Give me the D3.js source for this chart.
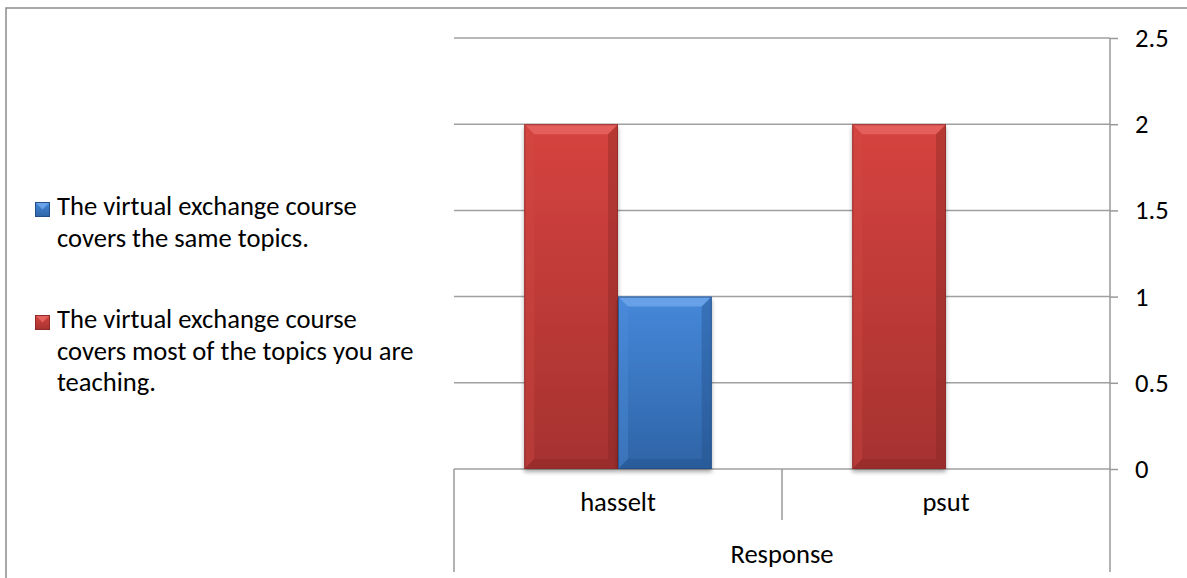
<!DOCTYPE html>
<html>
<head>
<meta charset="utf-8">
<script src="https://cdn.jsdelivr.net/npm/d3@7"></script>
<style>
html,body{margin:0;padding:0;background:#fff;}
svg{display:block;}
text{font-family:Carlito, Calibri, Lato, "Open Sans", sans-serif;fill:#000;}
</style>
</head>
<body>
<svg id="chart" width="1187" height="578"></svg>
<script>
// ---- data ----
const categories = ["hasselt", "psut"];
const seriesNames = [
  "The virtual exchange course covers most of the topics you are teaching.",
  "The virtual exchange course covers the same topics."
];
const seriesMost = [2, 2];
const seriesSame = [1, 0];
const legendLines = [
  ["The virtual exchange course", "covers the same topics."],
  ["The virtual exchange course", "covers most of the topics you are", "teaching."]
];
const yTickValues = [0, 0.5, 1, 1.5, 2, 2.5];
const yTickLabels = ["0", "0.5", "1", "1.5", "2", "2.5"];
const axisTitle = "Response";

// ---- setup ----
const svg = d3.select("#chart");
const W = 1187, H = 578;
const plot = {left: 454, right: 1110, top: 38, bottom: 469};

// measure font size so text width matches
const probe = svg.append("text").attr("font-size", 22).text("The virtual exchange course");
const measured = probe.node().getComputedTextLength();
probe.remove();
const FS = Math.max(16, Math.min(28, 22 * 300 / measured));

const defs = svg.append("defs");
function grad(id, c1, c2) {
  const g = defs.append("linearGradient").attr("id", id).attr("x1", 0).attr("y1", 0).attr("x2", 0).attr("y2", 1);
  g.append("stop").attr("offset", "0%").attr("stop-color", c1);
  g.append("stop").attr("offset", "100%").attr("stop-color", c2);
}
grad("gRed", "#D6433F", "#A53230");
grad("gBlue", "#4688DA", "#2E64A6");
const f = defs.append("filter").attr("id", "shadow").attr("x", "-20%").attr("y", "-20%").attr("width", "140%").attr("height", "140%");
f.append("feDropShadow").attr("dx", 0).attr("dy", 3).attr("stdDeviation", 2.2).attr("flood-color", "#000").attr("flood-opacity", 0.35);

// outer border
svg.append("rect").attr("x", 6).attr("y", 8).attr("width", W + 10).attr("height", H + 10)
  .attr("fill", "none").attr("stroke", "#8c8c8c").attr("stroke-width", 1.5);

// scales
const x0 = d3.scaleBand().domain(categories).range([plot.left, plot.right]).paddingInner(0).paddingOuter(0);
const x1 = d3.scaleBand().domain([0, 1]).range([0, x0.bandwidth()]).paddingInner(0).paddingOuter(0.75);
const y = d3.scaleLinear().domain([0, 2.5]).range([plot.bottom, plot.top]);

// gridlines + right axis via d3.axisRight
const axisG = svg.append("g").attr("transform", `translate(${plot.right},0)`)
  .call(d3.axisRight(y).tickValues(yTickValues).tickFormat((d, i) => yTickLabels[i]).tickSize(8).tickPadding(17));
axisG.select(".domain").remove();
axisG.selectAll(".tick line").attr("stroke", "#999").attr("stroke-width", 1.5);
axisG.selectAll(".tick text").attr("font-size", FS).attr("font-family", null).attr("fill", "#000");

const grid = svg.append("g");
grid.selectAll("line").data(yTickValues).join("line")
  .attr("x1", plot.left).attr("x2", plot.right)
  .attr("y1", d => y(d)).attr("y2", d => y(d))
  .attr("stroke", "#a0a0a0").attr("stroke-width", 1.5);

// category axis lines
const catBottom = 572, sepBottom = 520;
svg.append("line").attr("x1", plot.right).attr("x2", plot.right).attr("y1", plot.top).attr("y2", catBottom)
  .attr("stroke", "#999").attr("stroke-width", 1.5);
svg.append("line").attr("x1", plot.left).attr("x2", plot.left).attr("y1", plot.bottom).attr("y2", catBottom)
  .attr("stroke", "#999").attr("stroke-width", 1.5);
categories.slice(1).forEach(c => {
  svg.append("line").attr("x1", x0(c)).attr("x2", x0(c)).attr("y1", plot.bottom).attr("y2", sepBottom)
    .attr("stroke", "#999").attr("stroke-width", 1.5);
});
svg.append("g").selectAll("text").data(categories).join("text")
  .attr("x", d => x0(d) + x0.bandwidth() / 2).attr("y", 511)
  .attr("text-anchor", "middle").attr("font-size", FS).text(d => d);
svg.append("text").attr("x", (plot.left + plot.right) / 2).attr("y", 563)
  .attr("text-anchor", "middle").attr("font-size", FS).text(axisTitle);

// bars
const seriesVals = [seriesMost, seriesSame];
const styles = [
  {fill: "url(#gRed)", light: "#E86A66", lightSide: "#D24A45", dark: "#7E2422", edge: "#8E2A28"},
  {fill: "url(#gBlue)", light: "#73AAEE", lightSide: "#4F8EDC", dark: "#1F4A80", edge: "#244F86"}
];
function bevelBar(g, bx, by, bw, bh, st) {
  if (bh <= 0) return;
  const b = Math.min(10, bh / 2, bw / 2);
  const grp = g.append("g");
  grp.append("rect").attr("x", bx).attr("y", by).attr("width", bw).attr("height", bh)
    .attr("fill", st.fill).attr("filter", "url(#shadow)");
  // top bevel
  grp.append("polygon").attr("points", [[bx, by], [bx + bw, by], [bx + bw - b, by + b], [bx + b, by + b]].join(" "))
    .attr("fill", st.light).attr("opacity", 0.75);
  // left bevel
  grp.append("polygon").attr("points", [[bx, by], [bx + b, by + b], [bx + b, by + bh - b], [bx, by + bh]].join(" "))
    .attr("fill", st.lightSide).attr("opacity", 0.35);
  // right bevel
  grp.append("polygon").attr("points", [[bx + bw, by], [bx + bw, by + bh], [bx + bw - b, by + bh - b], [bx + bw - b, by + b]].join(" "))
    .attr("fill", st.dark).attr("opacity", 0.35);
  // bottom bevel
  grp.append("polygon").attr("points", [[bx, by + bh], [bx + bw, by + bh], [bx + bw - b, by + bh - b], [bx + b, by + bh - b]].join(" "))
    .attr("fill", st.dark).attr("opacity", 0.3);
  grp.append("rect").attr("x", bx + 0.5).attr("y", by + 0.5).attr("width", bw - 1).attr("height", bh - 1)
    .attr("fill", "none").attr("stroke", st.edge).attr("stroke-width", 1).attr("opacity", 0.8);
}
const barsG = svg.append("g");
categories.forEach((c, ci) => {
  seriesVals.forEach((vals, si) => {
    const v = vals[ci];
    const bx = x0(c) + x1(si);
    bevelBar(barsG, bx, y(v), x1.bandwidth(), y(0) - y(v), styles[si]);
  });
});

// legend (blue series first, then red)
const legendOrder = [1, 0];
const legendY = [215, 328];
const lineH = 31.5;
const legG = svg.append("g");
legendOrder.forEach((si, li) => {
  const base = legendY[li];
  const st = styles[si];
  const mx = 35, my = base - 13, ms = 15;
  legG.append("rect").attr("x", mx).attr("y", my).attr("width", ms).attr("height", ms).attr("fill", st.fill);
  legG.append("polygon").attr("points", [[mx, my], [mx + ms, my], [mx + ms / 2, my + ms / 2]].join(" "))
    .attr("fill", st.light).attr("opacity", 0.8);
  legG.append("rect").attr("x", mx + 0.5).attr("y", my + 0.5).attr("width", ms - 1).attr("height", ms - 1)
    .attr("fill", "none").attr("stroke", st.edge).attr("stroke-width", 1);
  const t = legG.append("text").attr("x", 57).attr("y", base).attr("font-size", FS);
  legendLines[li].forEach((ln, k) => {
    t.append("tspan").attr("x", 57).attr("y", base + k * lineH).text(ln);
  });
});
</script>
</body>
</html>
